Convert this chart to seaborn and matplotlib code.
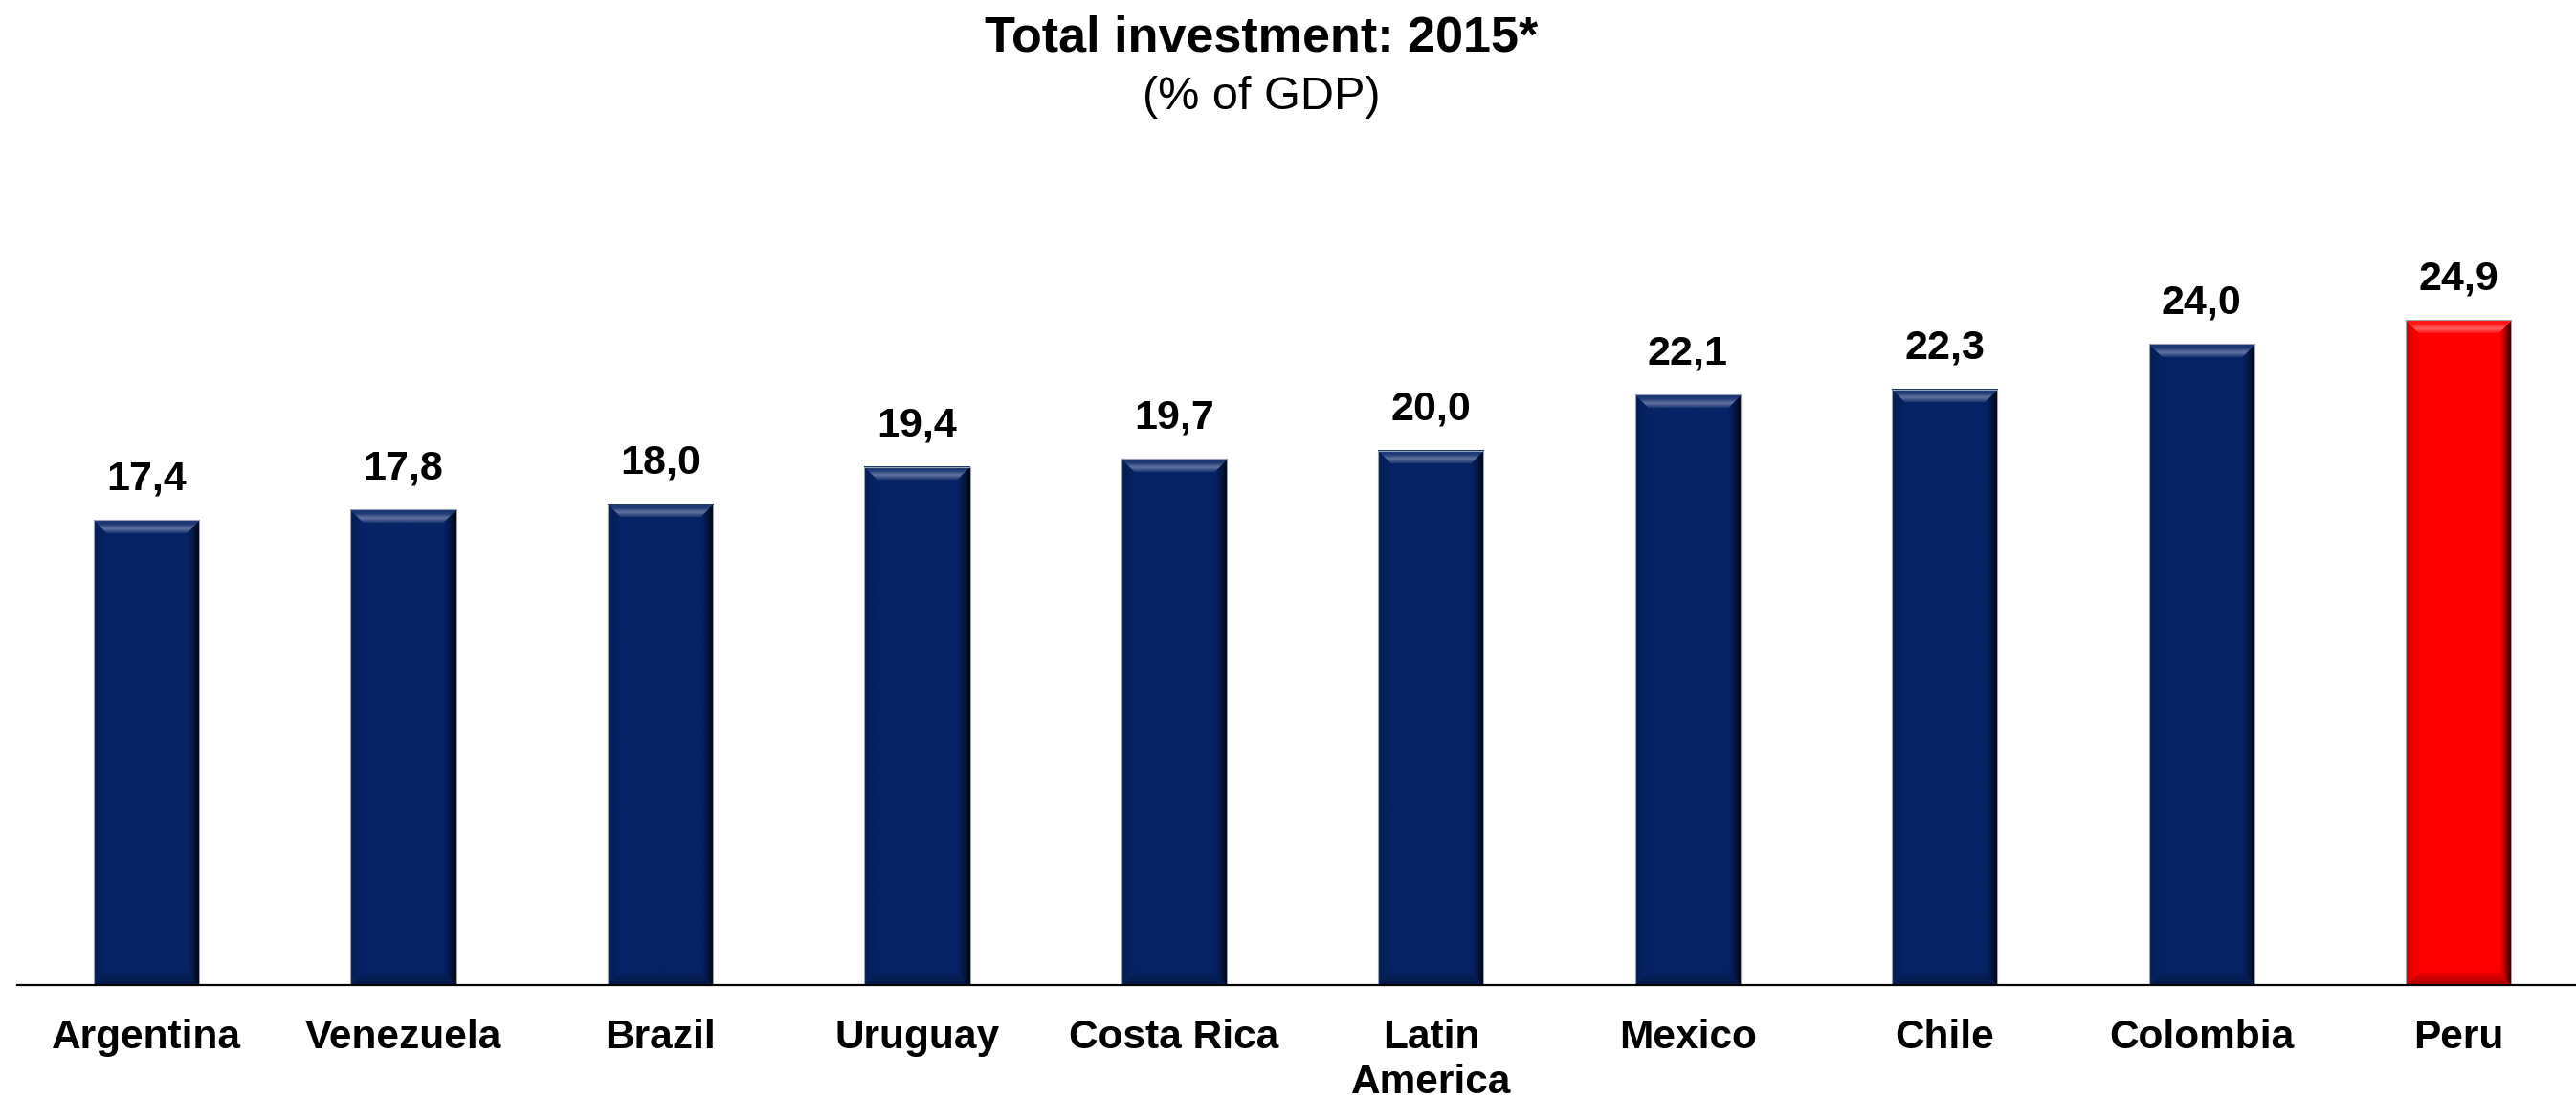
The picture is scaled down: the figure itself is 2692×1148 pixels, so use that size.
import numpy as np
import pandas as pd
import matplotlib
matplotlib.use("Agg")
import matplotlib.pyplot as plt
import seaborn as sns
from matplotlib.patches import Rectangle

# Data: total investment, 2015 (% of GDP)
countries = ["Argentina", "Venezuela", "Brazil", "Uruguay", "Costa Rica",
             "Latin\nAmerica", "Mexico", "Chile", "Colombia", "Peru"]
investment = [17.4, 17.8, 18.0, 19.4, 19.7, 20.0, 22.1, 22.3, 24.0, 24.9]
bar_colors = ["#062366"] * 9 + ["#ff0000"]

sns.set_theme(style="white")
plt.rcParams["font.family"] = ["Liberation Sans", "DejaVu Sans"]

DPI = 100
W_PX, H_PX = 2692, 1148
fig = plt.figure(figsize=(W_PX / DPI, H_PX / DPI), dpi=DPI)
ax = fig.add_axes([18 / W_PX, (H_PX - 1029) / H_PX, 1 - 18 / W_PX, 879 / H_PX])

df = pd.DataFrame({"country": countries, "value": investment})
sns.barplot(data=df, x="country", y="value", hue="country", palette=bar_colors,
            saturation=1, width=0.41, legend=False, ax=ax, zorder=1)

XLIM = (-0.503, 9.457)
YLIM = (0, 31.5)
ax.set_xlim(*XLIM)
ax.set_ylim(*YLIM)
ax.set_xlabel("")
ax.set_ylabel("")
ax.set_yticks([])
for side in ("left", "top", "right"):
    ax.spines[side].set_visible(False)
ax.spines["bottom"].set_color("black")
ax.spines["bottom"].set_linewidth(1.6)
ax.spines["bottom"].set_zorder(5)
ax.tick_params(axis="x", length=0, pad=25)
ax.set_xticks(range(len(countries)))
ax.set_xticklabels(countries, fontsize=30.5, fontweight="bold", color="black",
                   linespacing=1.22)


def bevel_image(base_rgb, w_px, h_px, b=14):
    """Shaded RGB image giving a bar a bevelled, slightly raised look."""
    rows = np.arange(h_px)[:, None] * np.ones((1, w_px))
    cols = np.arange(w_px)[None, :] * np.ones((h_px, 1))
    dt, db = rows, h_px - 1 - rows
    dl, dr = cols, w_px - 1 - cols
    light = np.zeros((h_px, w_px))
    dark = np.zeros((h_px, w_px))

    top = (dt < b) & (dt <= dl) & (dt <= dr)
    light[top] = (0.08 + 0.26 * np.exp(-((dt - 8.5) / 3.2) ** 2))[top]
    right = (dr < b) & (dr < dt) & (dr <= db)
    dark[right] = (0.92 * (1 - dr / b) ** 1.6)[right]
    bottom = (db < b) & (db < dl) & (db < dr)
    dark[bottom] = (0.30 * (1 - db / b) ** 0.7)[bottom]
    left = (dl < b) & (dl < dt) & (dl < db)
    dark[left] = (0.15 * (1 - dl / b))[left]

    base = np.array(base_rgb)[None, None, :]
    img = base * (1 - dark)[..., None]
    img = img + (1 - img) * light[..., None]
    return np.clip(img, 0, 1)


fig.canvas.draw()
for patch, val, col in zip(ax.patches, investment, bar_colors):
    x0, w = patch.get_x(), patch.get_width()
    h = patch.get_height()
    (px0, py0), (px1, py1) = ax.transData.transform([(x0, 0), (x0 + w, h)])
    w_px, h_px = int(round(px1 - px0)), int(round(py1 - py0))
    img = bevel_image(matplotlib.colors.to_rgb(col), w_px, h_px)
    ax.imshow(img, extent=[x0, x0 + w, 0, h], aspect="auto",
              interpolation="bilinear", zorder=2)
    ax.add_patch(Rectangle((x0, 0), w, h, fill=False, edgecolor="#9aa3b5",
                           linewidth=0.8, zorder=3))
    ax.annotate(f"{val:.1f}".replace(".", ","), (x0 + w / 2, h),
                xytext=(0, 23), textcoords="offset points",
                ha="center", va="baseline", fontsize=31, fontweight="bold",
                color="black")

ax.set_xlim(*XLIM)
ax.set_ylim(*YLIM)

fig.text(1318 / W_PX, 1 - 53 / H_PX, "Total investment: 2015*", ha="center",
         va="baseline", fontsize=37.5, fontweight="bold", color="black")
fig.text(1318 / W_PX, 1 - 114 / H_PX, "(% of GDP)", ha="center",
         va="baseline", fontsize=35, color="black")

fig.savefig("out.png", dpi=DPI, facecolor="white")
